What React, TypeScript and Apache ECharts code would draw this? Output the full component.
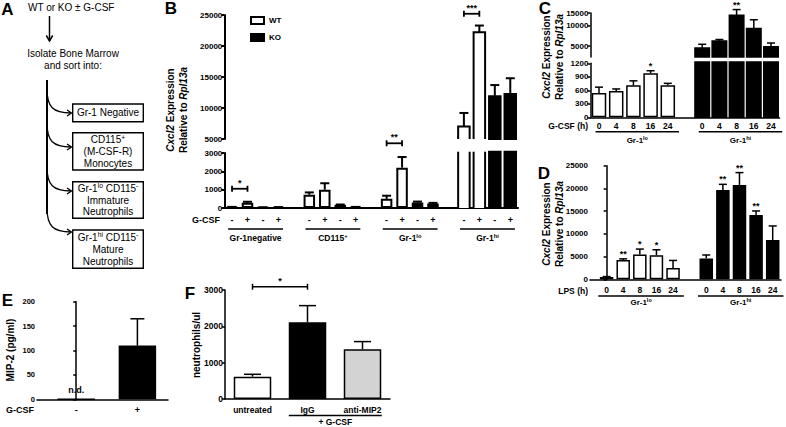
import React, { useEffect, useRef } from 'react';
import * as echarts from 'echarts';

const FONT = '"Liberation Sans", Arial, Helvetica, sans-serif';
const INK = '#000000';

// ---------- Panel B : Cxcl2 in sorted bone-marrow populations, WT vs KO, ± G-CSF ----------
const bGroups = ['Gr-1negative', 'CD115{s|+}', 'Gr-1{s|lo}', 'Gr-1{s|hi}'];
const bGcsfTicks = ['-', '+', '-', '+'];
const bWtUntreated = [50, 720, 500, 7000];
const bWtUntreatedErr = [10, 130, 170, 2200];
const bWtGcsf = [290, 1000, 2200, 22200];
const bWtGcsfErr = [50, 350, 580, 1100];
const bKoUntreated = [30, 170, 300, 11900];
const bKoUntreatedErr = [10, 20, 50, 1800];
const bKoGcsf = [40, 50, 250, 12250];
const bKoGcsfErr = [10, 10, 30, 2550];
const bLowerTicks = [0, 1000, 2000, 3000];
const bUpperTicks = [5000, 10000, 15000, 20000, 25000];
const bSigGroup = [0, 2, 3];
const bSigStars = [1, 2, 3];
const bSigHeight = [1050, 3530, 25200];

// ---------- Panel C : G-CSF time course ----------
const cTimes = ['0', '4', '8', '16', '24'];
const cGroups = ['Gr-1{s|lo}', 'Gr-1{s|hi}'];
const cLoMean = [540, 585, 710, 980, 715];
const cLoErr = [130, 45, 100, 55, 40];
const cLoStars = [0, 0, 0, 1, 0];
const cHiMean = [4700, 5950, 13900, 8970, 4900];
const cHiErr = [630, 290, 2900, 3030, 660];
const cHiStars = [0, 0, 2, 0, 0];
const cLowerTicks = [0, 300, 600, 900, 1200];
const cUpperTicks = [5000, 10000, 15000];
const cUpperMin = 3500;

// ---------- Panel D : LPS time course ----------
const dTimes = ['0', '4', '8', '16', '24'];
const dGroups = ['Gr-1{s|lo}', 'Gr-1{s|hi}'];
const dLoMean = [500, 4230, 5450, 5300, 2500];
const dLoErr = [100, 270, 1200, 1200, 1650];
const dLoStars = [0, 2, 1, 1, 0];
const dHiMean = [4600, 19650, 20770, 14160, 8650];
const dHiErr = [750, 1250, 2710, 880, 3090];
const dHiStars = [0, 2, 2, 2, 0];
const dTicks = [0, 5000, 10000, 15000, 20000, 25000];

// ---------- Panel E : MIP-2 ----------
const eCats = ['-', '+'];
const eMean = [0, 110];
const eErr = [0, 55];
const eLabels = ['n.d.', ''];
const eTicks = [0, 50, 100, 150, 200];

// ---------- Panel F : neutrophils ----------
const fCats = ['untreated', 'IgG', 'anti-MIP2'];
const fMean = [615, 2110, 1370];
const fErr = [65, 460, 210];
const fColors = ['#ffffff', '#000000', '#d3d3d3'];
const fTicks = [0, 1000, 2000, 3000];
const fSig = [[0, 1, 3090, 1]];
const fGroupLabel = ['+ G-CSF'];

// ---------- Panel A : diagram texts ----------
const aBoxTexts = [
  'Gr-1 Negative',
  'CD115{s|+}\n(M-CSF-R)\nMonocytes',
  'Gr-1{s|lo} CD115{s|-}\nImmature\nNeutrophils',
  'Gr-1{s|hi} CD115{s|-}\nMature\nNeutrophils',
];

type Bar = { slot: number; v: number; e: number; dark: number; s: number };

const rangeOf = (t: number[]) => ({ min: t[0], max: t[t.length - 1], interval: t[1] - t[0] });
const plain = (v: number) => String(v);

function supRich(fs: number, bold: boolean) {
  return {
    s: { fontSize: fs * 0.68, fontWeight: bold ? 'bold' : 'normal', fontFamily: FONT, fill: INK, color: INK, verticalAlign: 'top', lineHeight: fs * 1.2 },
    i: { fontSize: fs, fontStyle: 'italic', fontWeight: 'bold', fontFamily: FONT, fill: INK, color: INK, lineHeight: fs * 1.3 },
  };
}

function textEl(x: number, y: number, text: string, fs: number, bold: boolean, align = 'center', extra: any = {}) {
  return {
    type: 'text', x, y, silent: true,
    style: {
      text, fill: INK, fontSize: fs, fontWeight: bold ? 'bold' : 'normal', fontFamily: FONT,
      align, verticalAlign: 'middle', textAlign: align, textVerticalAlign: 'middle',
      rich: supRich(fs, bold), lineHeight: fs * 1.18, ...extra,
    },
  };
}

function lineEl(x1: number, y1: number, x2: number, y2: number, lw: number) {
  return { type: 'line', shape: { x1, y1, x2, y2 }, style: { stroke: INK, lineWidth: lw } };
}

function segBarRender(w: number, lw: number) {
  return (_p: any, api: any) => {
    const x = api.value(0), y0 = api.value(1), y1 = api.value(2);
    const dark = api.value(3) > 0, openTop = api.value(4) > 0;
    const a = api.coord([x, y0]), b = api.coord([x, y1]);
    const l = a[0] - w / 2, r = a[0] + w / 2;
    const bottom = a[1], top = b[1] - (openTop ? 1.3 : 0);
    const kids: any[] = [{
      type: 'rect', shape: { x: l, y: top, width: w, height: bottom - top },
      style: { fill: dark ? INK : '#ffffff', stroke: dark ? INK : 'none', lineWidth: dark ? lw : 0 },
    }];
    if (!dark) {
      if (openTop) {
        kids.push(lineEl(l, top, l, bottom, lw), lineEl(r, top, r, bottom, lw));
      } else {
        kids.push({ type: 'polyline', shape: { points: [[l, bottom], [l, top], [r, top], [r, bottom]] }, style: { stroke: INK, fill: 'none', lineWidth: lw } });
      }
    }
    return { type: 'group', children: kids };
  };
}

function errRender(lw: number, cap: number, starSize: number) {
  return (_p: any, api: any) => {
    const x = api.value(0), y0 = api.value(1), y1 = api.value(2), s = api.value(3);
    const a = api.coord([x, y0]), b = api.coord([x, y1]);
    const kids: any[] = [lineEl(a[0], a[1], b[0], b[1], lw), lineEl(b[0] - cap / 2, b[1], b[0] + cap / 2, b[1], lw)];
    if (s > 0) kids.push(textEl(b[0], b[1] - 5, '*'.repeat(s), starSize, true));
    return { type: 'group', children: kids };
  };
}

function bracketRender(lw: number, tick: number, starSize: number) {
  return (_p: any, api: any) => {
    const x1 = api.value(0), x2 = api.value(1), y = api.value(2), s = api.value(3);
    const a = api.coord([x1, y]), b = api.coord([x2, y]);
    return {
      type: 'group', children: [
        lineEl(a[0], a[1], b[0], a[1], lw),
        lineEl(a[0], a[1] - tick, a[0], a[1] + tick, lw),
        lineEl(b[0], a[1] - tick, b[0], a[1] + tick, lw),
        textEl((a[0] + b[0]) / 2, a[1] - 6, '*'.repeat(s), starSize, true),
      ],
    };
  };
}

function groupRender(labels: string[], extL: number, extR: number, dLine: number, dText: number, fs: number) {
  return (p: any, api: any) => {
    const s = api.value(0), e = api.value(1);
    const bw = api.size([1, 0])[0];
    const a = api.coord([s, 0]), b = api.coord([e, 0]);
    const xl = a[0] + extL * bw, xr = b[0] + extR * bw;
    return {
      type: 'group', children: [
        lineEl(xl, a[1] + dLine, xr, a[1] + dLine, 1.5),
        textEl((xl + xr) / 2, a[1] + dText, labels[p.dataIndex], fs, true),
      ],
    };
  };
}

function splitSegments(bars: Bar[], n: number, lowMax: number, upMin: number, upT: (v: number) => number) {
  const lowLight: any[] = Array(n).fill('-');
  const lowDark: any[] = Array(n).fill('-');
  const through: number[][] = [], upper: number[][] = [], errLow: number[][] = [], errUp: number[][] = [];
  bars.forEach((b) => {
    if (b.v <= lowMax) (b.dark ? lowDark : lowLight)[b.slot] = b.v;
    else through.push([b.slot, 0, lowMax, b.dark, 1]);
    if (b.v > upMin) upper.push([b.slot, upT(upMin), upT(b.v), b.dark, 0]);
    if (b.e > 0) {
      if (b.v > upMin) errUp.push([b.slot, upT(b.v), upT(b.v + b.e), b.s]);
      else errLow.push([b.slot, b.v, b.v + b.e, b.s]);
    }
  });
  return { lowLight, lowDark, through, upper, errLow, errUp };
}

function catAxis(gridIndex: number, data: string[], show: boolean, lw: number, fs: number, margin: number) {
  return {
    type: 'category', gridIndex, data, show, boundaryGap: true,
    axisLine: { show: true, lineStyle: { color: INK, width: lw } },
    axisTick: { show: false },
    axisLabel: { interval: 0, color: INK, fontSize: fs, fontWeight: 'bold', fontFamily: FONT, margin },
    splitLine: { show: false },
  };
}

// value-type x axis whose labels sit on integer slots (used where the first bar is inset from the y axis)
function slotAxis(gridIndex: number, labels: string[], min: number, max: number, lw: number, fs: number, margin: number) {
  const vals = labels.map((l, i) => (l ? i : -1)).filter((i) => i >= 0);
  return {
    type: 'value', gridIndex, min, max,
    axisLine: { show: true, onZero: false, lineStyle: { color: INK, width: lw } },
    axisTick: { show: false },
    axisLabel: { color: INK, fontSize: fs, fontWeight: 'bold', fontFamily: FONT, margin, customValues: vals, formatter: (v: number) => labels[Math.round(v)] ?? '' },
    splitLine: { show: false },
  };
}

function valAxis(gridIndex: number, r: any, lw: number, fs: number, extra: any = {}) {
  return {
    type: 'value', gridIndex, ...r,
    axisLine: { show: true, lineStyle: { color: INK, width: lw } },
    axisTick: { show: true, length: 3, lineStyle: { color: INK, width: lw } },
    axisLabel: { color: INK, fontSize: fs, fontWeight: 'bold', fontFamily: FONT, margin: 2, formatter: plain },
    splitLine: { show: false },
    ...extra,
  };
}

function buildOption() {
  // ---- B slots ----
  const bCats: string[] = [];
  bGroups.forEach((_, g) => { bCats.push(...bGcsfTicks); if (g < bGroups.length - 1) bCats.push(''); });
  const bSlot = (g: number, k: number) => g * (bGcsfTicks.length + 1) + k;
  const bBars: Bar[] = [];
  bGroups.forEach((_, g) => {
    bBars.push({ slot: bSlot(g, 0), v: bWtUntreated[g], e: bWtUntreatedErr[g], dark: 0, s: 0 });
    bBars.push({ slot: bSlot(g, 1), v: bWtGcsf[g], e: bWtGcsfErr[g], dark: 0, s: 0 });
    bBars.push({ slot: bSlot(g, 2), v: bKoUntreated[g], e: bKoUntreatedErr[g], dark: 1, s: 0 });
    bBars.push({ slot: bSlot(g, 3), v: bKoGcsf[g], e: bKoGcsfErr[g], dark: 1, s: 0 });
  });
  const bLow = rangeOf(bLowerTicks), bUp = rangeOf(bUpperTicks);
  const B = splitSegments(bBars, bCats.length, bLow.max, bUp.min, (v) => v);
  const bSigLow: number[][] = [], bSigUp: number[][] = [];
  bSigGroup.forEach((g, i) => {
    const item = [bSlot(g, 0), bSlot(g, 1), bSigHeight[i], bSigStars[i]];
    (bSigHeight[i] > bUp.min ? bSigUp : bSigLow).push(item);
  });

  // ---- C slots ----
  const cCats = [...cTimes, '', ...cTimes];
  const cBars: Bar[] = [];
  cTimes.forEach((_, i) => {
    cBars.push({ slot: i, v: cLoMean[i], e: cLoErr[i], dark: 0, s: cLoStars[i] });
    cBars.push({ slot: i + cTimes.length + 1, v: cHiMean[i], e: cHiErr[i], dark: 1, s: cHiStars[i] });
  });
  const cLow = rangeOf(cLowerTicks);
  const C = splitSegments(cBars, cCats.length, cLow.max, cUpperMin, (v) => Math.log10(v));

  // ---- D ----
  const dCats = [...dTimes, '', ...dTimes];
  const dLo: number[][] = [];
  const dHi: number[][] = [];
  const dErr: number[][] = [];
  dTimes.forEach((_, i) => {
    const j = i + dTimes.length + 1;
    dLo.push([i, dLoMean[i]]);
    dHi.push([j, dHiMean[i]]);
    dErr.push([i, dLoMean[i], dLoMean[i] + dLoErr[i], dLoStars[i]]);
    dErr.push([j, dHiMean[i], dHiMean[i] + dHiErr[i], dHiStars[i]]);
  });

  // ---- E / F ----
  const eData = eMean.map((v, i) => eLabels[i]
    ? { value: [i, v], label: { show: true, position: 'top', distance: 4, formatter: eLabels[i], color: INK, fontSize: 9, fontWeight: 'bold', fontFamily: FONT } }
    : { value: [i, v] });
  const eErrData = eMean.map((v, i) => [i, v, v + eErr[i], 0]).filter((_d, i) => eErr[i] > 0);
  const fData = fMean.map((v, i) => ({ value: v, itemStyle: { color: fColors[i], borderColor: INK, borderWidth: 1.5 } }));
  const fErrData = fMean.map((v, i) => [i, v, v + fErr[i], 0]);

  const cLogMin = Math.log10(cUpperMin), cLogMax = Math.log10(cUpperTicks[cUpperTicks.length - 1]);
  const cLogTicks = cUpperTicks.map((t) => Math.log10(t));

  const grids = [
    { left: 224.3, top: 153, width: 293.7, height: 55 },   // B lower
    { left: 224.3, top: 15, width: 293.7, height: 124 },   // B upper
    { left: 590.4, top: 63.3, width: 189.2, height: 54 },  // C lower
    { left: 590.4, top: 13, width: 189.2, height: 44 },    // C upper (log)
    { left: 590, top: 165.7, width: 191, height: 113.6 },  // D
    { left: 37, top: 301.7, width: 131, height: 97.6 },    // E
    { left: 225, top: 290, width: 165, height: 109 },      // F
  ].map((g) => ({ ...g, containLabel: false, outerBoundsMode: 'none', show: false }));

  const xAxis = [
    catAxis(0, bCats, true, 2, 9, 7),
    catAxis(1, bCats, false, 2, 9, 7),
    catAxis(2, cCats, true, 1.5, 8.5, 4),
    catAxis(3, cCats, false, 1.5, 8.5, 4),
    slotAxis(4, dCats, -1, 10.5, 1.5, 8.5, 6.5),
    slotAxis(5, eCats, -0.64, 1.5, 1.5, 9, 6),
    catAxis(6, fCats, true, 1.5, 8.5, 6),
  ];
  const yAxis = [
    valAxis(0, bLow, 2, 8),
    valAxis(1, bUp, 2, 8),
    valAxis(2, cLow, 1.5, 8),
    valAxis(3, { min: cLogMin, max: cLogMax }, 1.5, 8, {
      axisTick: { show: true, length: 3, lineStyle: { color: INK, width: 1.5 }, customValues: cLogTicks },
      axisLabel: { color: INK, fontSize: 8, fontWeight: 'bold', fontFamily: FONT, margin: 2, customValues: cLogTicks, formatter: (v: number) => String(Math.round(Math.pow(10, v))) },
    }),
    valAxis(4, rangeOf(dTicks), 1.5, 8),
    valAxis(5, rangeOf(eTicks), 1.5, 7.5),
    valAxis(6, rangeOf(fTicks), 1.5, 8.5),
  ];

  const white = { color: '#ffffff', borderColor: INK };
  const black = { color: INK, borderColor: INK };
  const custom = (xi: number, render: any, data: any[], name: string, z = 3) => ({
    type: 'custom', name, xAxisIndex: xi, yAxisIndex: xi, coordinateSystem: 'cartesian2d',
    renderItem: render, data, clip: false, silent: true, z,
  });

  const series: any[] = [
    // B
    { type: 'bar', name: 'WT', xAxisIndex: 0, yAxisIndex: 0, data: B.lowLight, barWidth: 11.5, barGap: '-100%', itemStyle: { ...white, borderWidth: 2 }, silent: true },
    { type: 'bar', name: 'KO', xAxisIndex: 0, yAxisIndex: 0, data: B.lowDark, barWidth: 11.5, barGap: '-100%', itemStyle: { ...black, borderWidth: 2 }, silent: true },
    custom(0, segBarRender(11.5, 2), B.through, 'B-through', 2),
    custom(1, segBarRender(11.5, 2), B.upper, 'B-upper', 2),
    custom(0, errRender(2, 9, 9), B.errLow, 'B-err-low'),
    custom(1, errRender(2, 9, 9), B.errUp, 'B-err-up'),
    custom(0, bracketRender(1.8, 3, 9), bSigLow, 'B-sig-low'),
    custom(1, bracketRender(1.8, 3, 9), bSigUp, 'B-sig-up'),
    custom(0, groupRender(bGroups, -0.25, 0.3, 21, 29.7, 8.5), bGroups.map((_, g) => [bSlot(g, 0), bSlot(g, 3)]), 'B-groups'),
    // C
    { type: 'bar', name: 'C-lo', xAxisIndex: 2, yAxisIndex: 2, data: C.lowLight, barWidth: 14.5, barGap: '-100%', itemStyle: { ...white, borderWidth: 1.5 }, silent: true },
    { type: 'bar', name: 'C-hi', xAxisIndex: 2, yAxisIndex: 2, data: C.lowDark, barWidth: 14.5, barGap: '-100%', itemStyle: { ...black, borderWidth: 1.5 }, silent: true },
    custom(2, segBarRender(14.5, 1.5), C.through, 'C-through', 2),
    custom(3, segBarRender(14.5, 1.5), C.upper, 'C-upper', 2),
    custom(2, errRender(1.5, 8, 9), C.errLow, 'C-err-low'),
    custom(3, errRender(1.5, 8, 9), C.errUp, 'C-err-up'),
    custom(2, groupRender(cGroups, -0.2, 0.65, 14.4, 22.7, 8), cGroups.map((_, g) => [g * (cTimes.length + 1), g * (cTimes.length + 1) + cTimes.length - 1]), 'C-groups'),
    // D
    { type: 'bar', name: 'D-lo', xAxisIndex: 4, yAxisIndex: 4, data: dLo, barWidth: 13.5, barGap: '-100%', itemStyle: { ...white, borderWidth: 1.5 }, silent: true },
    { type: 'bar', name: 'D-hi', xAxisIndex: 4, yAxisIndex: 4, data: dHi, barWidth: 13.5, barGap: '-100%', itemStyle: { ...black, borderWidth: 1.5 }, silent: true },
    custom(4, errRender(1.5, 8, 9), dErr, 'D-err'),
    custom(4, groupRender(dGroups, -0.5, 0.65, 16.7, 23.4, 8), dGroups.map((_, g) => [g * (dTimes.length + 1), g * (dTimes.length + 1) + dTimes.length - 1]), 'D-groups'),
    // E
    { type: 'bar', name: 'E', xAxisIndex: 5, yAxisIndex: 5, data: eData, barWidth: 37.5, itemStyle: { ...black, borderWidth: 1.5 }, silent: true },
    custom(5, errRender(1.5, 14, 9), eErrData, 'E-err'),
    // F
    { type: 'bar', name: 'F', xAxisIndex: 6, yAxisIndex: 6, data: fData, barWidth: 37.5, silent: true },
    custom(6, errRender(1.5, 17, 9), fErrData, 'F-err'),
    custom(6, bracketRender(1.5, 3, 9), fSig, 'F-sig'),
    custom(6, groupRender(fGroupLabel, -0.34, 0.35, 16.5, 23, 8.5), [[1, 2]], 'F-groups'),
  ];

  // ---- graphic: panel letters, titles, row labels, diagram A ----
  const yTitle = '{i|Cxcl2} Expression\nRelative to {i|Rpl13a}';
  const g: any[] = [
    textEl(7.5, 9.2, 'A', 17, true),
    textEl(171, 8.5, 'B', 17, true),
    textEl(545, 8.5, 'C', 17, true),
    textEl(544, 173.5, 'D', 17, true),
    textEl(7.5, 300.5, 'E', 17, true),
    textEl(190, 293.5, 'F', 17, true),
    { ...textEl(176.5, 110, yTitle, 10, true, 'center', { lineHeight: 13 }), rotation: Math.PI / 2 },
    { ...textEl(553, 57, yTitle, 10, true, 'center', { lineHeight: 12 }), rotation: Math.PI / 2 },
    { ...textEl(553, 224, yTitle, 10, true, 'center', { lineHeight: 12 }), rotation: Math.PI / 2 },
    { ...textEl(10, 350, 'MIP-2 (pg/ml)', 10, true), rotation: Math.PI / 2 },
    { ...textEl(196, 345, 'neutrophils/ul', 10, true), rotation: Math.PI / 2 },
    textEl(220, 220, 'G-CSF', 9, true, 'right'),
    textEl(588, 126, 'G-CSF (h)', 8.5, true, 'right'),
    textEl(588, 290.7, 'LPS (h)', 8.5, true, 'right'),
    textEl(34, 410, 'G-CSF', 9, true, 'right'),
    // diagram A
    textEl(28, 7, 'WT or KO ± G-CSF', 10, false, 'left'),
    lineEl(49.5, 16, 49.5, 40.5, 1.5),
    { type: 'polyline', shape: { points: [[46.3, 35.5], [49.5, 41], [52.7, 35.5]] }, style: { stroke: INK, fill: 'none', lineWidth: 1.5 } },
    textEl(73, 53.3, 'Isolate Bone Marrow', 10, false),
    textEl(73, 65, 'and sort into:', 10, false),
    lineEl(47, 80, 47, 214, 2),
  ];
  const boxTop = [104, 132.7, 181.7, 230];
  const boxH = [17.7, 37.3, 36.6, 38.3];
  const arrowY = [113, 147, 191, 232];
  aBoxTexts.forEach((t, i) => {
    const yb = arrowY[i];
    g.push({ type: 'bezierCurve', shape: { x1: 47, y1: yb - 24, cpx1: 47, cpy1: yb - 6, cpx2: 53, cpy2: yb, x2: 71, y2: yb }, style: { stroke: INK, fill: 'none', lineWidth: 1.3 } });
    g.push({ type: 'polyline', shape: { points: [[67, yb - 3], [71.5, yb], [67, yb + 3]] }, style: { stroke: INK, fill: 'none', lineWidth: 1.3 } });
    g.push({ type: 'rect', shape: { x: 72.7, y: boxTop[i], width: 70.6, height: boxH[i] }, style: { stroke: INK, fill: '#ffffff', lineWidth: 1.4 } });
    g.push(textEl(108, boxTop[i] + boxH[i] / 2, t, 10, false, 'center', { lineHeight: 11.8 }));
  });

  return {
    animation: false,
    backgroundColor: '#ffffff',
    textStyle: { fontFamily: FONT },
    grid: grids,
    xAxis,
    yAxis,
    legend: {
      data: ['WT', 'KO'], orient: 'vertical', left: 245, top: 11, itemWidth: 13, itemHeight: 7, itemGap: 8,
      icon: 'rect', selectedMode: false,
      textStyle: { fontSize: 8, fontWeight: 'bold', fontFamily: FONT, color: INK },
    },
    series,
    graphic: { elements: g },
  };
}

export default function App() {
  const ref = useRef<HTMLDivElement>(null);
  useEffect(() => {
    if (!ref.current) return;
    const chart = echarts.init(ref.current, undefined, { renderer: 'svg' });
    chart.setOption(buildOption() as any);
    return () => chart.dispose();
  }, []);
  return <div ref={ref} style={{ position: 'absolute', left: 0, top: 0, width: 786, height: 427, background: '#fff' }} />;
}
